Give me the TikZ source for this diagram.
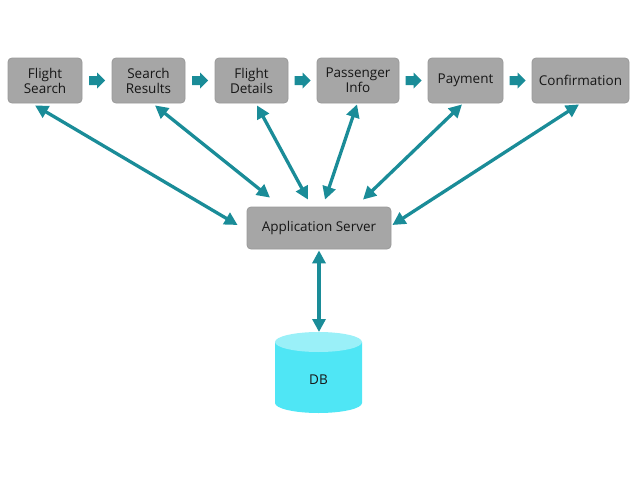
\documentclass[tikz,border=0pt]{standalone}
\usepackage{fontspec}
\setmainfont{Open Sans}
\usetikzlibrary{arrows.meta,shapes.geometric}
\definecolor{teal1}{HTML}{1A8C98}
\definecolor{boxgray}{HTML}{A6A6A6}
\definecolor{boxedge}{HTML}{999999}
\definecolor{dbbody}{HTML}{4FE6F5}
\definecolor{dbtop}{HTML}{9AF0F8}
\definecolor{txt}{HTML}{161616}
\begin{document}
\begin{tikzpicture}[x=1pt,y=-1pt,
  pagebox/.style={draw=boxedge,line width=0.8pt,fill=boxgray,rounded corners=4pt,
    align=center,text=txt,font=\fontsize{13.5}{15}\selectfont,inner sep=0pt},
  link/.style={draw=teal1,line width=3.3pt,{Triangle[length=13pt,width=13pt]}-{Triangle[length=13pt,width=13pt]}}
]
\useasboundingbox (0,0) rectangle (638,479);
% page boxes
\node[pagebox,minimum width=74pt,minimum height=45pt] (b1) at (45,80.5) {Flight\\Search};
\node[pagebox,minimum width=73pt,minimum height=45pt] (b2) at (148.5,80.5) {Search\\Results};
\node[pagebox,minimum width=73pt,minimum height=45pt] (b3) at (251.5,80.5) {Flight\\Details};
\node[pagebox,minimum width=82pt,minimum height=45pt] (b4) at (358,80.5) {Passenger\\Info};
\node[pagebox,minimum width=75pt,minimum height=45pt] (b5) at (465.5,80.5) {Payment};
\node[pagebox,minimum width=97pt,minimum height=45pt] (b6) at (580.5,80.5) {Confirmation};
\node[pagebox,minimum width=144pt,minimum height=42pt] (srv) at (319,228) {Application Server};
% database cylinder
\fill[dbbody] (275,342) -- (275,403) arc[start angle=180,end angle=360,x radius=43.5pt,y radius=10pt] -- (362,342) -- cycle;
\fill[dbtop] (318.5,342) ellipse[x radius=43.5pt,y radius=10pt];
\node[text=txt,font=\fontsize{13.5}{15}\selectfont] (db) at (318.5,380) {DB};
\coordinate (dbt) at (319,332);
% small block arrows between pages
\foreach \a/\b in {b1/b2,b2/b3,b3/b4,b4/b5,b5/b6}{
  \path (\a.east) -- (\b.west) coordinate[midway] (m\a);
  \fill[teal1] ([shift={(-8,-4.5)}]m\a) -- ([shift={(0,-4.5)}]m\a) -- ([shift={(0,-8)}]m\a)
    -- ([shift={(8,0)}]m\a) -- ([shift={(0,8)}]m\a) -- ([shift={(0,4.5)}]m\a)
    -- ([shift={(-8,4.5)}]m\a) -- cycle;
}
% connectors
\draw[link] ([shift={(-10,2)}]b1.south) -- ([shift={(-9,-3)}]srv.west);
\draw[link] ([shift={(6.5,2)}]b2.south) -- ([shift={(-49,-9)}]srv.north);
\draw[link] ([shift={(5.5,2)}]b3.south) -- ([shift={(-11,-7)}]srv.north);
\draw[link] ([shift={(-1,1)}]b4.south) -- ([shift={(6,-7)}]srv.north);
\draw[link] ([shift={(-3.5,1)}]b5.south) -- ([shift={(44,-7)}]srv.north);
\draw[link] ([shift={(-1.5,1)}]b6.south) -- ([shift={(1,-3)}]srv.east);
\draw[link] ([yshift=-1]srv.south) -- (dbt);
\end{tikzpicture}
\end{document}
